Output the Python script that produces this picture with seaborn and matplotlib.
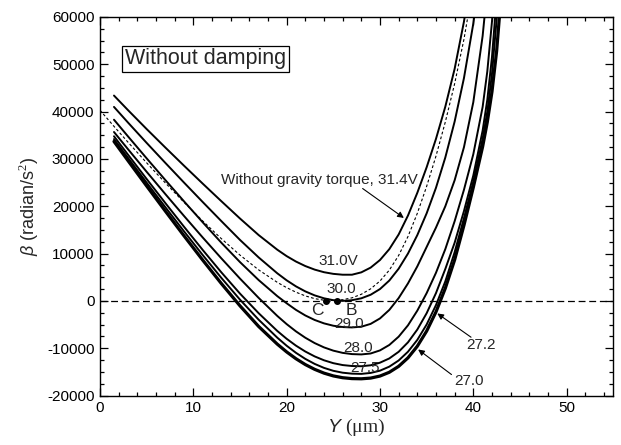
import matplotlib
matplotlib.use("Agg")
import matplotlib.pyplot as plt
import seaborn as sns
import pandas as pd
from matplotlib.ticker import MultipleLocator, FuncFormatter

# ---------------- data ----------------
Y_31 = [1.5, 3, 5, 7, 9, 11, 13, 15, 17, 19, 20, 21, 22, 23, 24, 25, 26, 27, 28, 29, 30,
        31, 32, 33, 34, 35, 36, 37, 38, 39, 39.5]
B_31 = [43400, 40325, 36325, 32425, 28585, 24805, 21085, 17425, 13925, 10825, 9475, 8325, 7375, 6625, 6075,
        5725, 5545, 5545, 6045, 7045, 8645, 10945, 14045, 18045, 22845, 28245, 34245, 41045, 49045, 59045, 65545]

Y_NG = [0, 1.5, 3, 5, 7, 9, 11, 13, 15, 17, 19, 20, 21, 22, 23, 24, 25, 26, 27, 28, 29, 30,
        31, 32, 33, 34, 35, 36, 37, 38, 39, 39.5]
B_NG = [40300, 36895, 33550, 29190, 24950, 20850, 16910, 13170, 9690, 6570, 3930, 2810, 1850, 1070, 490, 160,
        110, 260, 660, 1410, 2560, 4210, 6510, 9610, 13610, 18510, 24210, 30610, 37810, 45910, 55310, 61060]

Y_30 = [1.5, 3, 5, 7, 9, 11, 13, 15, 17, 19, 20, 21, 22, 23, 24, 25, 26, 27, 28, 29, 30,
        31, 32, 33, 34, 35, 36, 37, 38, 39, 40, 40.5]
B_30 = [41000, 37700, 33400, 29180, 25020, 20920, 16880, 12900, 9200, 5840, 4360, 3080, 2020, 1180, 560,
        160, 10, 160, 560, 1310, 2510, 4310, 6810, 10010, 13910, 18510, 23910, 30310, 37910, 47110, 58610, 65610]

Y_29 = [1.5, 3, 5, 7, 9, 11, 13, 15, 17, 19, 20, 21, 22, 23, 24, 25, 26, 27, 28, 29, 30,
        31, 32, 33, 34, 35, 36, 37, 38, 39, 40, 41, 41.5]
B_29 = [38300, 34775, 30135, 25555, 21055, 16635, 12315, 8215, 4415, 1015, -485, -1885, -3065, -4015, -4735,
        -5235, -5515, -5595, -5445, -4845, -3695, -1895, 605, 3705, 7305, 11405, 15500, 20000, 25500, 32500,
        42000, 56000, 66000]

Y_28 = [1.5, 3, 5, 7, 9, 11, 13, 15, 17, 19, 20, 21, 22, 23, 24, 25, 26, 27, 28, 29, 30,
        31, 32, 33, 34, 35, 36, 37, 38, 39, 40, 41, 41.5, 42, 42.5]
B_28 = [35700, 32070, 27290, 22590, 17970, 13430, 9010, 4730, 650, -3170, -4890, -6430, -7770, -8900, -9810,
        -10500, -10970, -11230, -11300, -11100, -10450, -9300, -7550, -5150, -2050, 1650, 5950, 10950, 16850,
        23500, 31000, 41000, 48500, 59000, 71000]

Y_275 = [1.5, 3, 5, 7, 9, 11, 13, 15, 17, 19, 20, 21, 22, 23, 24, 25, 26, 27, 28, 29, 30,
         31, 32, 33, 34, 35, 36, 37, 38, 39, 40, 41, 41.5, 42, 42.5]
B_275 = [34800, 30915, 25775, 20695, 15695, 10795, 6055, 1555, -2585, -6345, -7995, -9445, -10685, -11715,
         -12535, -13145, -13545, -13745, -13795, -13595, -13045, -12145, -10745, -8745, -6045, -2595, 1655,
         6755, 12300, 19000, 26500, 36000, 42500, 51500, 64000]

Y_272 = [1.5, 3, 5, 7, 9, 11, 13, 15, 17, 19, 20, 21, 22, 23, 24, 25, 26, 27, 28, 29, 30,
         31, 32, 33, 34, 35, 36, 37, 38, 39, 40, 41, 41.5, 42, 42.5, 43]
B_272 = [34200, 30240, 25000, 19820, 14720, 9720, 4880, 280, -3960, -7760, -9460, -10960, -12240, -13300,
         -14140, -14760, -15160, -15360, -15410, -15210, -14730, -13880, -12580, -10730, -8230, -4980, -880,
         4120, 10300, 17500, 25200, 34300, 40000, 48000, 59500, 75000]

Y_270 = [1.5, 3, 5, 7, 9, 11, 13, 15, 17, 19, 20, 21, 22, 23, 24, 25, 26, 27, 28, 29, 30,
         31, 32, 33, 34, 35, 36, 37, 38, 39, 40, 41, 41.5, 42, 42.5, 43, 43.5]
B_270 = [33700, 29650, 24290, 18990, 13770, 8650, 3690, -1030, -5390, -9130, -10770, -12210, -13440, -14450,
         -15250, -15840, -16220, -16410, -16450, -16300, -15870, -15070, -13820, -12020, -9570, -6370, -2320,
         2680, 8680, 16000, 24000, 32600, 37800, 44200, 52800, 65000, 82000]

POINT_C = (24.2, 0)
POINT_B = (25.4, 0)

X_TICKS = [0, 10, 20, 30, 40, 50]
Y_TICKS = [-20000, -10000, 0, 10000, 20000, 30000, 40000, 50000, 60000]

# ---------------- style ----------------
sns.set_style("ticks")
plt.rcParams["font.family"] = ["Liberation Sans", "DejaVu Sans"]
plt.rcParams["mathtext.fontset"] = "custom"
plt.rcParams["mathtext.rm"] = "Liberation Serif"
plt.rcParams["mathtext.it"] = "Liberation Sans:italic"
plt.rcParams["axes.unicode_minus"] = False

fig = plt.figure(figsize=(6.21, 4.45), dpi=100)
ax = fig.add_axes([0.161, 0.111, 0.8266, 0.8508])

curves = [
    (Y_31, B_31, 1.4),
    (Y_30, B_30, 1.4),
    (Y_29, B_29, 1.4),
    (Y_28, B_28, 1.4),
    (Y_275, B_275, 1.4),
    (Y_272, B_272, 1.4),
    (Y_270, B_270, 2.3),
]
for ys, bs, lw in curves:
    df = pd.DataFrame({"Y": ys, "beta": bs})
    sns.lineplot(data=df, x="Y", y="beta", ax=ax, color="black", lw=lw, sort=False, estimator=None)

df_ng = pd.DataFrame({"Y": Y_NG, "beta": B_NG})
sns.lineplot(data=df_ng, x="Y", y="beta", ax=ax, color="black", lw=0.8, sort=False, estimator=None,
             linestyle=(0, (2.5, 2.0)))

ax.axhline(0, color="black", lw=0.9, linestyle=(0, (5.5, 3.0)), zorder=1)

ax.plot([POINT_C[0], POINT_B[0]], [POINT_C[1], POINT_B[1]], "o", color="black", ms=4, zorder=5)

# ---------------- texts ----------------
fs = 11
ax.text(11.3, 51200, "Without damping", fontsize=15.5, ha="center", va="center",
        bbox=dict(boxstyle="square,pad=0.12", fc="white", ec="black", lw=0.9))
ax.text(23.5, 25600, "Without gravity torque, 31.4V", fontsize=fs, ha="center", va="center")
ax.annotate("", xy=(32.8, 17200), xytext=(27.9, 24100),
            arrowprops=dict(arrowstyle="-|>", color="black", lw=0.8, mutation_scale=9))
ax.text(25.5, 8400, "31.0V", fontsize=fs, ha="center", va="center")
ax.text(25.8, 2600, "30.0", fontsize=fs, ha="center", va="center")
ax.text(23.3, -2000, "C", fontsize=12.5, ha="center", va="center")
ax.text(26.9, -2000, "B", fontsize=12.5, ha="center", va="center")
ax.text(26.7, -4800, "29.0", fontsize=fs, ha="center", va="center")
ax.text(27.7, -10000, "28.0", fontsize=fs, ha="center", va="center")
ax.text(28.4, -14100, "27.5", fontsize=fs, ha="center", va="center")
ax.text(40.8, -9300, "27.2", fontsize=fs, ha="center", va="center")
ax.annotate("", xy=(35.9, -2300), xytext=(40.0, -8000),
            arrowprops=dict(arrowstyle="-|>", color="black", lw=0.8, mutation_scale=9))
ax.text(39.5, -17000, "27.0", fontsize=fs, ha="center", va="center")
ax.annotate("", xy=(33.85, -9900), xytext=(37.9, -15900),
            arrowprops=dict(arrowstyle="-|>", color="black", lw=0.8, mutation_scale=9))

# ---------------- axes ----------------
ax.set_xlim(0, 55)
ax.set_ylim(-20000, 60000)
ax.set_xticks(X_TICKS)
ax.set_yticks(Y_TICKS)
ax.xaxis.set_minor_locator(MultipleLocator(2))
ax.yaxis.set_minor_locator(MultipleLocator(2500))
ax.yaxis.set_major_formatter(FuncFormatter(lambda v, p: f"{int(v)}"))
ax.tick_params(which="both", direction="in", top=True, right=True, labelsize=11, width=0.9, colors="black")
ax.tick_params(which="major", length=6, pad=4)
ax.tick_params(which="minor", length=3)
for s in ax.spines.values():
    s.set_linewidth(1.0)
    s.set_color("black")

ax.set_xlabel(r"$\mathit{Y}$ $\mathrm{(\mu m)}$", fontsize=14, labelpad=1)
ax.set_ylabel(r"$\mathit{\beta}$ (radian/s$^{2}$)", fontsize=13, labelpad=4)

fig.savefig("out.png", dpi=100)
